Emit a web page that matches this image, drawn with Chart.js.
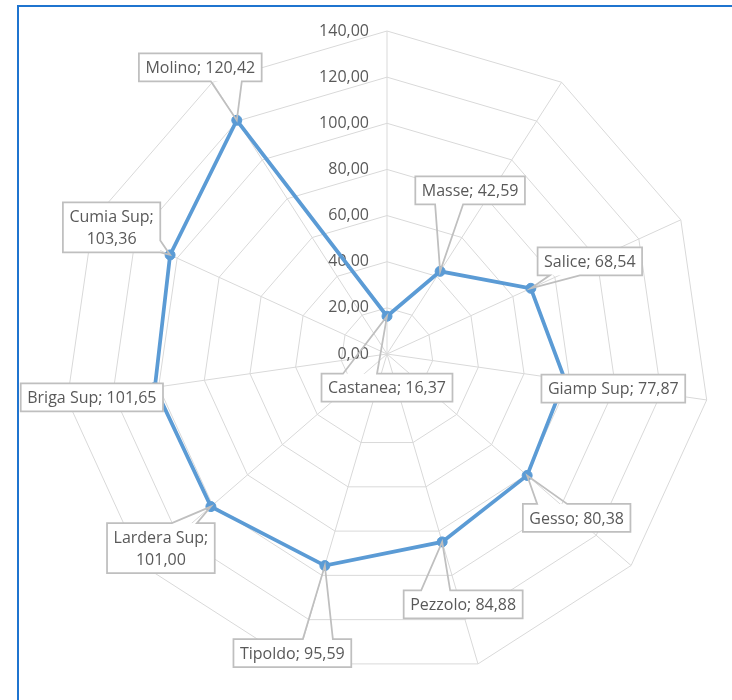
<!DOCTYPE html>
<html>
<head>
<meta charset="utf-8">
<title>Radar</title>
<script src="https://cdn.jsdelivr.net/npm/chart.js@4.4.0/dist/chart.umd.min.js"></script>
<style>
  html, body { margin: 0; padding: 0; background: #fff; }
  #wrap { position: relative; width: 732px; height: 700px; overflow: hidden; }
  #frame {
    position: absolute; left: 17px; top: 5px; width: 800px; height: 800px;
    border-left: 2px solid #1f74cf; border-top: 2px solid #1f74cf;
  }
  canvas { position: absolute; left: 0; top: 0; }
</style>
</head>
<body>
<div id="wrap">
  <div id="frame"></div>
  <canvas id="radarChart" width="732" height="700"></canvas>
</div>
<script>
const stations = ['Castanea', 'Masse', 'Salice', 'Giamp Sup', 'Gesso', 'Pezzolo',
                  'Tipoldo', 'Lardera Sup', 'Briga Sup', 'Cumia Sup', 'Molino'];
const values = [16.37, 42.59, 68.54, 77.87, 80.38, 84.88, 95.59, 101.00, 101.65, 103.36, 120.42];
const tickValues = [0, 20, 40, 60, 80, 100, 120, 140];

// where each callout sits: box centre offset from its point, which edge carries
// the pointer and the span of the pointer base along that edge
const calloutPlacement = [
    { dx: 0,     dy: 71.5,  edge: 'top',    base: [-44, -10] },
    { dx: 30,    dy: -81,   edge: 'bottom', base: [-35, -7] },
    { dx: 59,    dy: -27,   edge: 'bottom', base: [-40, -10] },
    { dx: 48.5,  dy: 9,     edge: null },
    { dx: 49.5,  dy: 42.5,  edge: 'top',    base: [-39.5, -9.5] },
    { dx: 21,    dy: 62.5,  edge: 'top',    base: [-42, -13] },
    { dx: -32.5, dy: 87.5,  edge: 'top',    base: [10.5, 40.5] },
    { dx: -50,   dy: 41.5,  edge: 'top',    base: [11, 36], wrap: true },
    { dx: -63,   dy: 10,    edge: null },
    { dx: -58.5, dy: -27.5, edge: 'right',  base: [13, 25], wrap: true },
    { dx: -36.5, dy: -53,   edge: 'bottom', base: [10.5, 41.5] }
];

const FONT = '16px "Open Sans", "Noto Sans", sans-serif';
const TEXT_COLOR = '#595959';

function fmt(v) {
    return v.toFixed(2).replace('.', ',');
}

const tickLabelPlugin = {
    id: 'tickLabels',
    beforeDatasetsDraw(chart) {
        const scale = chart.scales.r;
        const ctx = chart.ctx;
        ctx.save();
        ctx.font = FONT;
        ctx.fillStyle = TEXT_COLOR;
        ctx.textAlign = 'right';
        ctx.textBaseline = 'middle';
        tickValues.forEach(v => {
            const y = scale.yCenter - scale.getDistanceFromCenterForValue(v);
            ctx.fillText(fmt(v), scale.xCenter - 18, y);
        });
        ctx.restore();
    }
};

function calloutPath(ctx, box, p, tip) {
    const { x1, y1, x2, y2, cx, cy } = box;
    ctx.beginPath();
    ctx.moveTo(x1, y1);
    if (p.edge === 'top') {
        ctx.lineTo(cx + p.base[0], y1);
        ctx.lineTo(tip.x, tip.y);
        ctx.lineTo(cx + p.base[1], y1);
    }
    ctx.lineTo(x2, y1);
    if (p.edge === 'right') {
        ctx.lineTo(x2, cy + p.base[0]);
        ctx.lineTo(tip.x, tip.y);
        ctx.lineTo(x2, cy + p.base[1]);
    }
    ctx.lineTo(x2, y2);
    if (p.edge === 'bottom') {
        ctx.lineTo(cx + p.base[1], y2);
        ctx.lineTo(tip.x, tip.y);
        ctx.lineTo(cx + p.base[0], y2);
    }
    ctx.lineTo(x1, y2);
    ctx.closePath();
}

const calloutPlugin = {
    id: 'callouts',
    afterDatasetsDraw(chart) {
        const ctx = chart.ctx;
        const points = chart.getDatasetMeta(0).data;
        ctx.save();
        ctx.font = FONT;
        points.forEach((pt, i) => {
            const p = calloutPlacement[i];
            const lines = p.wrap
                ? [stations[i] + ';', fmt(values[i])]
                : [stations[i] + '; ' + fmt(values[i])];
            const lineH = 22;
            const w = Math.max(...lines.map(l => ctx.measureText(l).width)) + 13;
            const h = lines.length * lineH + 6;
            const cx = pt.x + p.dx;
            const cy = pt.y + p.dy;
            const box = { x1: cx - w / 2, y1: cy - h / 2, x2: cx + w / 2, y2: cy + h / 2, cx, cy };

            // only the box is filled, the pointer stays see-through
            ctx.fillStyle = '#ffffff';
            ctx.fillRect(box.x1, box.y1, w, h);
            calloutPath(ctx, box, p, { x: pt.x, y: pt.y });
            ctx.strokeStyle = '#bfbfbf';
            ctx.lineWidth = 1.75;
            ctx.lineJoin = 'miter';
            ctx.stroke();

            ctx.fillStyle = TEXT_COLOR;
            ctx.textAlign = 'center';
            ctx.textBaseline = 'middle';
            lines.forEach((l, k) => {
                ctx.fillText(l, cx, cy - (lines.length - 1) * lineH / 2 + k * lineH + 1);
            });
        });
        ctx.restore();
    }
};

new Chart(document.getElementById('radarChart'), {
    type: 'radar',
    data: {
        labels: stations,
        datasets: [{
            data: values,
            borderColor: '#5b9bd5',
            backgroundColor: 'rgba(0,0,0,0)',
            borderWidth: 3.75,
            fill: false,
            pointRadius: 5,
            pointBackgroundColor: '#5b9bd5',
            pointBorderColor: '#5b9bd5',
            pointBorderWidth: 1
        }]
    },
    options: {
        responsive: false,
        devicePixelRatio: 1,
        animation: false,
        layout: {
            padding: { left: 64, right: 22, top: 31, bottom: 23 }
        },
        plugins: {
            legend: { display: false },
            tooltip: { enabled: false }
        },
        scales: {
            r: {
                min: 0,
                max: 140,
                ticks: { stepSize: 20, display: false },
                grid: { color: '#d9d9d9', lineWidth: 1 },
                angleLines: { color: '#d9d9d9', lineWidth: 1 },
                pointLabels: { display: false }
            }
        }
    },
    plugins: [tickLabelPlugin, calloutPlugin]
});
</script>
</body>
</html>
